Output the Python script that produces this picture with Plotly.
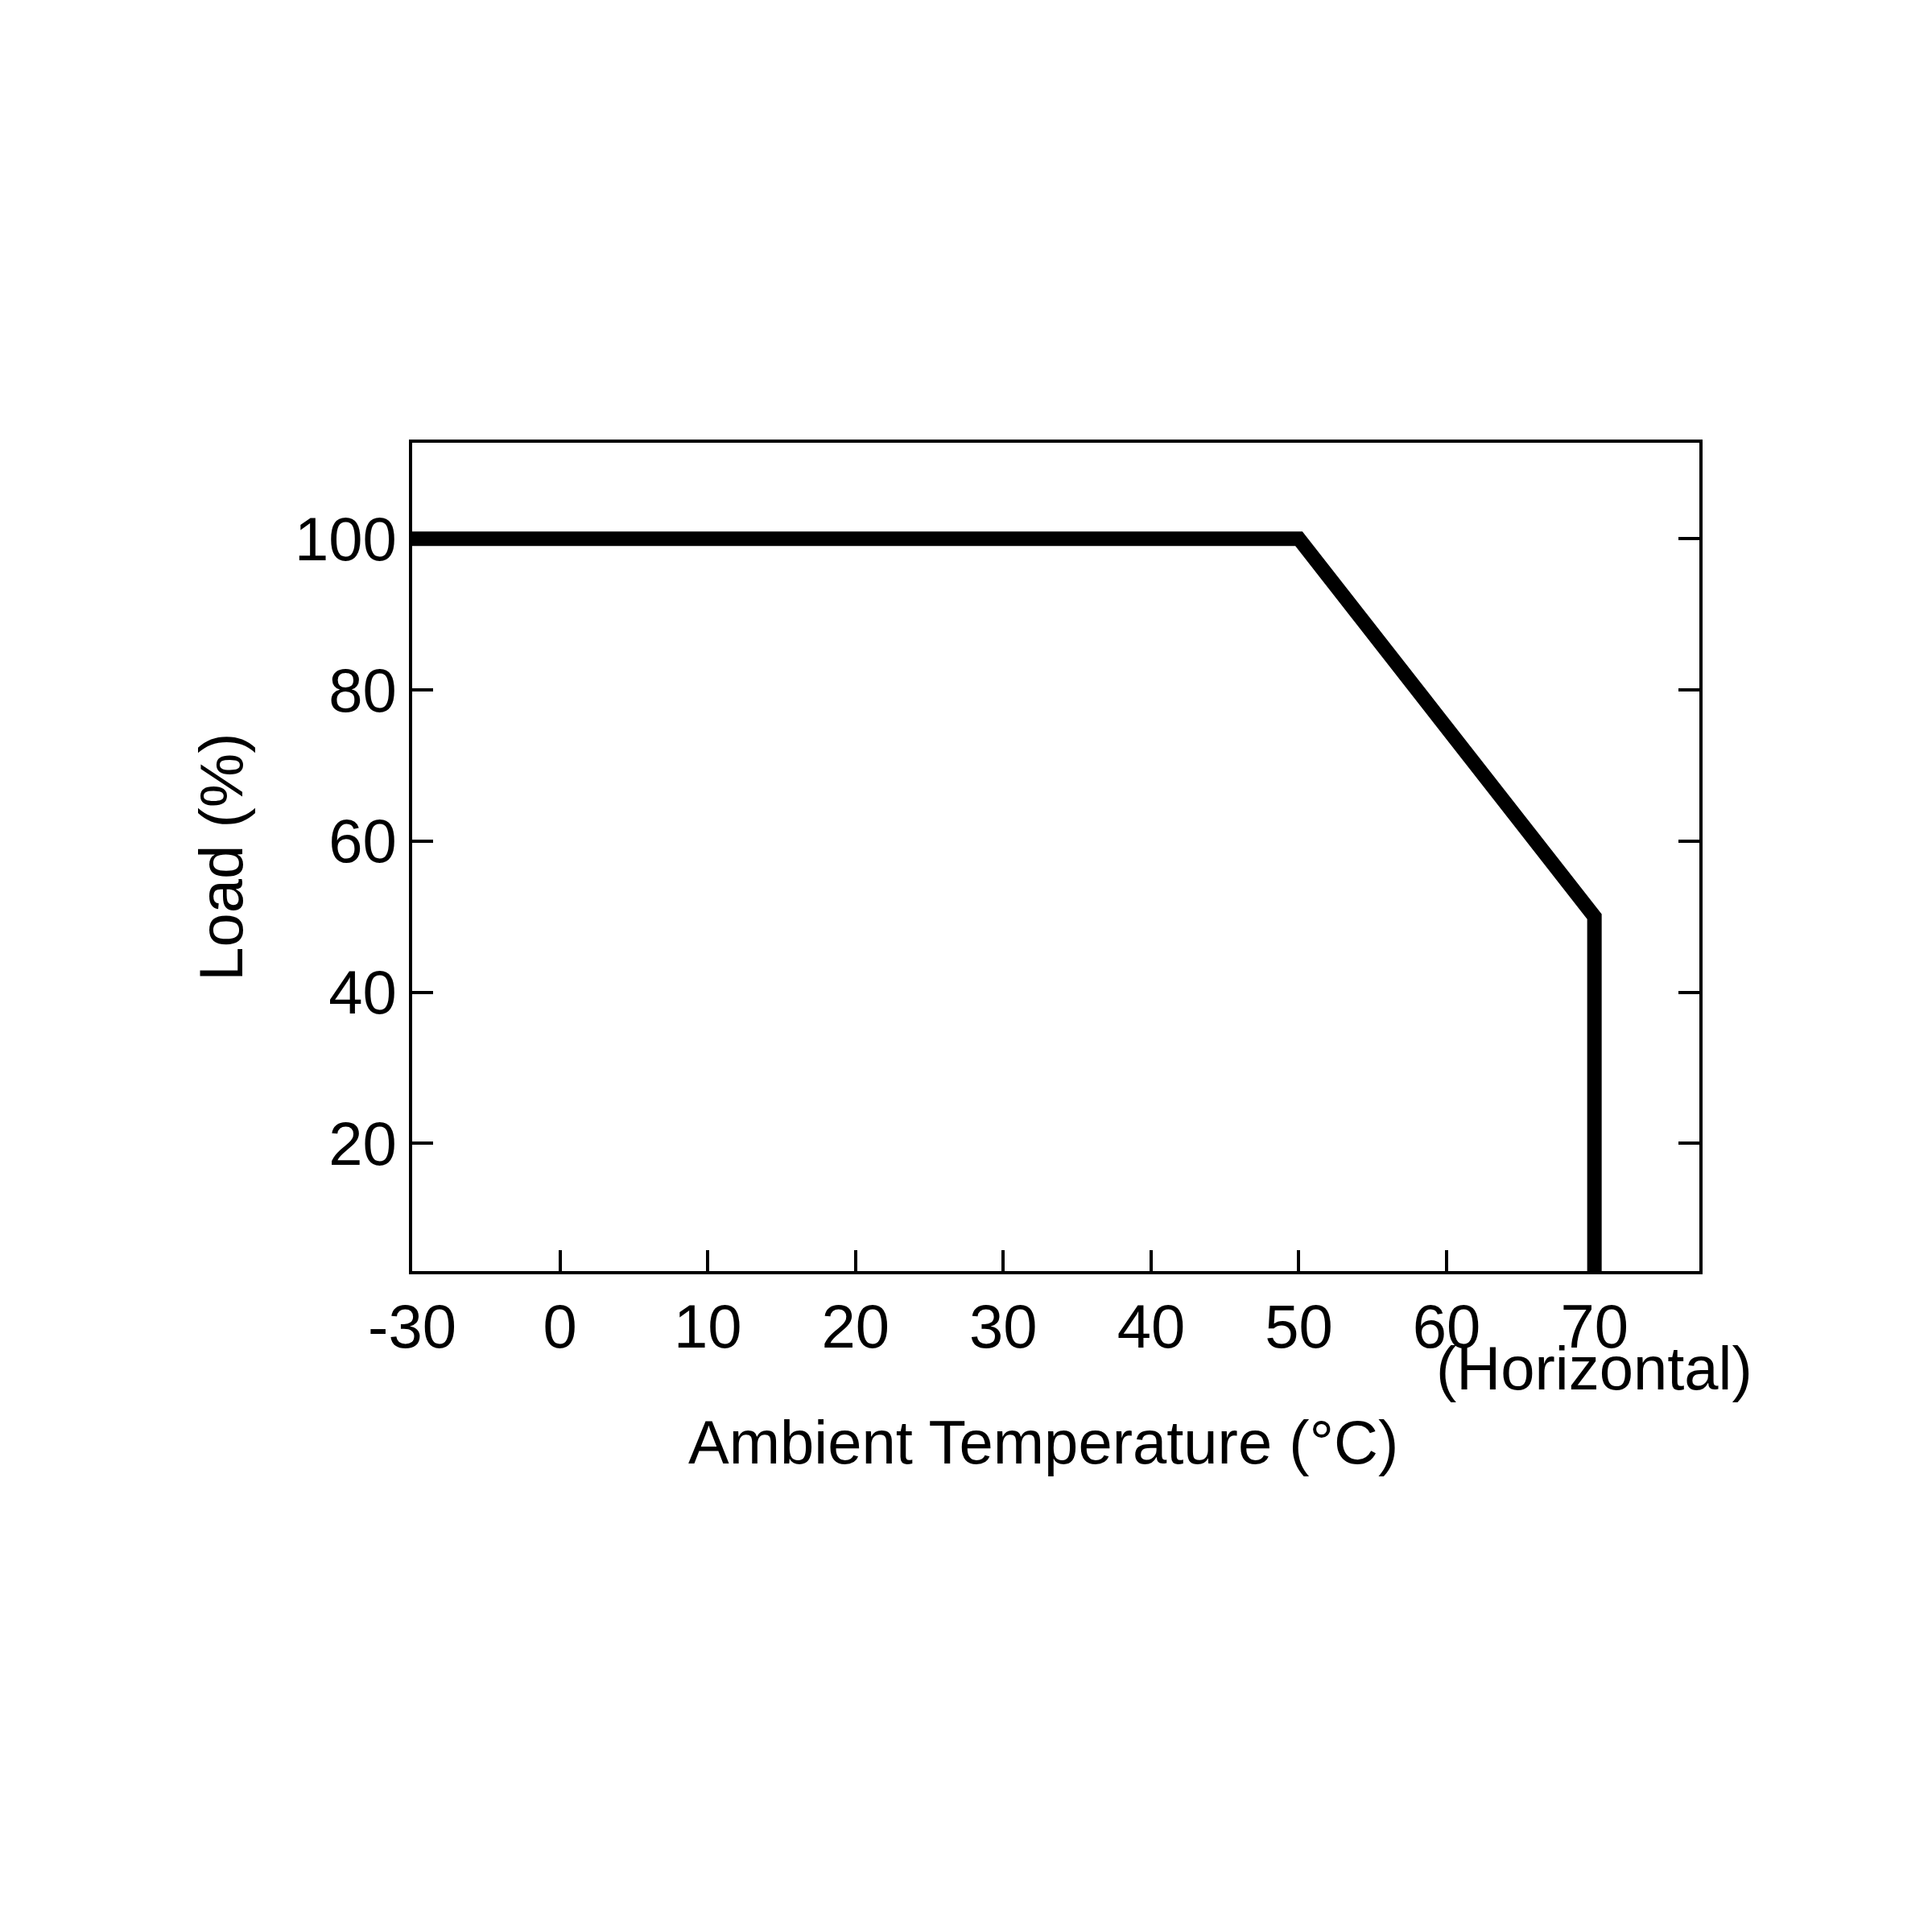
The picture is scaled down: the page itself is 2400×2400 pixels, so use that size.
import plotly.graph_objects as go

# derating curve; -30 sits one "decade" left of 0 on the drawn axis
temp_pos = [-10, 50, 70, 70]
load = [100, 100, 50, 3.1]
x_tickvals = [-10, 0, 10, 20, 30, 40, 50, 60, 70]
x_ticktext = ["-30", "0", "10", "20", "30", "40", "50", "60", "70"]
y_tickvals = [20, 40, 60, 80, 100]

font = dict(family="Liberation Sans, Arial", size=76, color="black")

fig = go.Figure(go.Scatter(x=temp_pos, y=load, mode="lines",
                           line=dict(color="black", width=18),
                           hoverinfo="skip"))

axis_common = dict(showline=True, linecolor="black", linewidth=4,
                   ticks="inside", ticklen=26, tickwidth=4, tickcolor="black",
                   showgrid=False, zeroline=False, tickfont=font)

fig.update_xaxes(range=[-10, 77.1], tickvals=x_tickvals, ticktext=x_ticktext,
                 mirror=True, **axis_common)
fig.update_yaxes(range=[3.1, 112.7], tickvals=y_tickvals, mirror="ticks",
                 title=dict(text="Load (%)", font=font, standoff=40), **axis_common)

fig.update_layout(
    width=2400, height=2400,
    margin=dict(l=504, r=297, t=542, b=829),
    paper_bgcolor="white", plot_bgcolor="white",
    showlegend=False,
    font=font,
    annotations=[
        dict(text="(Horizontal)", x=70, xref="x", y=-0.16, yref="paper",
             showarrow=False, font=font, xanchor="center"),
        dict(text="Ambient Temperature (°C)", x=0.49, xref="paper", y=-0.25, yref="paper",
             showarrow=False, font=font, xanchor="center"),
    ],
)

fig.write_html("out.html")
